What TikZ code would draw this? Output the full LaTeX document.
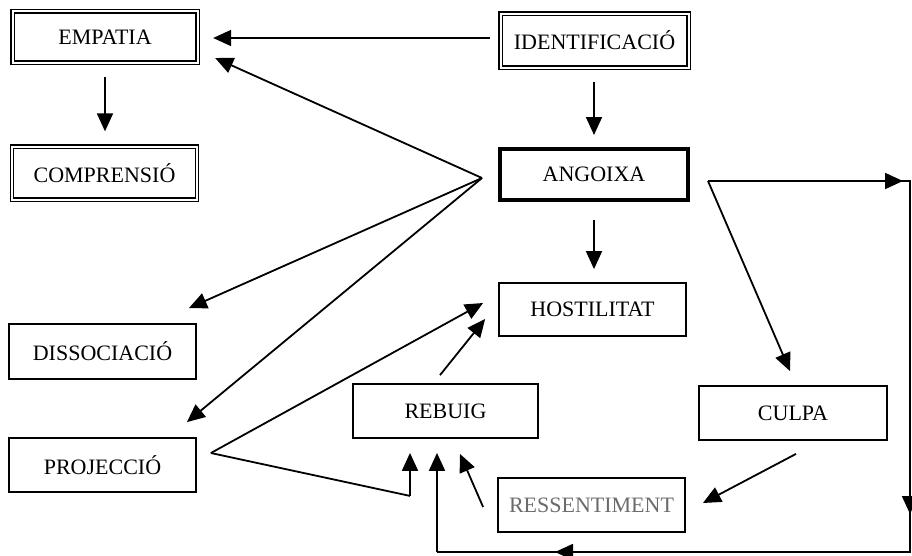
\documentclass[tikz,border=0pt]{standalone}
\usepackage{fontspec}
\setmainfont{Liberation Serif}
\usetikzlibrary{arrows.meta,calc}
\begin{document}
\begin{tikzpicture}[x=1pt,y=-1pt,
  box/.style={draw, line width=1.8pt, minimum width=187pt, minimum height=54pt, inner sep=0pt, font=\fontsize{22}{26}\selectfont},
  dbox/.style={box, double, line width=1.3pt, double distance=2pt, minimum width=185pt, minimum height=51.5pt},
  tbox/.style={box, line width=4pt, minimum width=188pt, minimum height=51pt},
  arr/.style={-{Triangle[length=18pt,width=16pt]}, line width=1.8pt},
  conn/.style={line width=1.8pt, line join=miter}]
\useasboundingbox (0,0) rectangle (912,555);
% nodes
\node[dbox] (empatia) at (105,37) {EMPATIA};
\node[dbox, minimum width=188pt, minimum height=54pt] (ident) at (594.5,40.5) {IDENTIFICACIÓ};
\node[dbox, minimum height=53pt] (compr) at (104.5,173) {COMPRENSIÓ};
\node[tbox] (angoixa) at (594,174.5) {ANGOIXA};
\node[box, minimum height=53pt] (host) at (592.5,309.5) {HOSTILITAT};
\node[box, minimum height=55pt] (dissoc) at (102.5,351.5) {DISSOCIACIÓ};
\node[box] (proj) at (102.5,465) {PROJECCIÓ};
\node[box, minimum width=185pt] (rebuig) at (445.5,411) {REBUIG};
\node[box, minimum width=188pt] (culpa) at (793,413) {CULPA};
\node[box, text=black!58] (ressent) at (591.5,505) {RESSENTIMENT};
% free points
\coordinate (F) at ($(angoixa.west)+(-16,3.5)$);
\coordinate (R) at ($(angoixa.east)+(18,6.5)$);
\coordinate (P) at ($(proj.east)+(14,-12)$);
\coordinate (c1) at (910,181);
\coordinate (c2) at (910,552);
\coordinate (c3) at (437,552);
\coordinate (pb) at ($(rebuig.south)+(-35.5,57)$);
% connectors
\draw[arr] ($(ident.west)+(-10,-2.5)$) -- ($(empatia.east)+(15,1)$);
\draw[arr] (F) -- ($(empatia.east)+(17,21)$);
\draw[arr] (F) -- ($(dissoc.north east)+(-8,-15)$);
\draw[arr] (F) -- ($(proj.north east)+(-10,-15)$);
\draw[arr] ($(empatia.south)+(0,14)$) -- ($(compr.north)+(0.5,-14.5)$);
\draw[arr] ($(ident.south)+(-0.5,14)$) -- ($(angoixa.north)+(0,-12)$);
\draw[arr] ($(angoixa.south)+(0,18)$) -- ($(host.north)+(1.5,-13)$);
\draw[arr] (R) -- ($(culpa.north)+(-3,-14)$);
\draw[arr] ($(culpa.south)+(3,13)$) -- ($(ressent.east)+(17,-2)$);
\draw[arr] ($(ressent.west)+(-14,2)$) -- ($(rebuig.south)+(14.5,15)$);
\draw[arr] ($(rebuig.north)+(-5.5,-8)$) -- ($(host.west)+(-13,9.5)$);
\draw[arr] (P) -- ($(host.west)+(-15,-6.5)$);
\draw[conn] (P) -- (pb);
\draw[arr] (pb) -- ($(rebuig.south)+(-35.5,14)$);
% loop
\draw[conn] (R) -- (c1) -- (c2) -- (c3);
\draw[arr] (R) -- (903,181);
\draw[arr] (c1) -- (910,514);
\draw[arr] (c2) -- (555,552);
\draw[arr] (c3) -- ($(rebuig.south)+(-8.5,14)$);
\end{tikzpicture}
\end{document}
